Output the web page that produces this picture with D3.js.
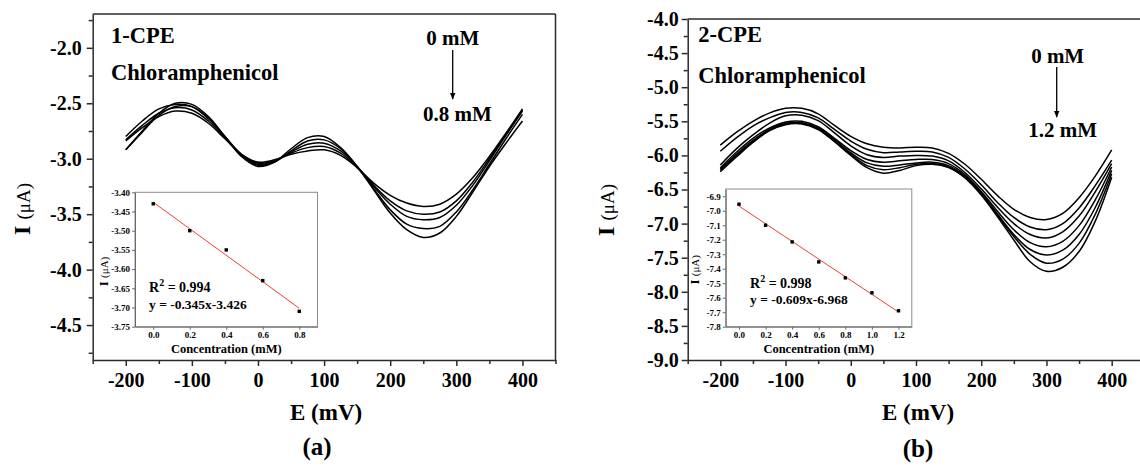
<!DOCTYPE html>
<html><head><meta charset="utf-8">
<script src="https://cdn.jsdelivr.net/npm/d3@7"></script>
<style>
html,body{margin:0;padding:0;background:#fff;}
svg{display:block;font-family:"Liberation Serif","Times New Roman",Times,serif;}
</style></head><body>
<svg id="chart" width="1140" height="467"></svg>
<script>
// ---------- DATA ----------
const E_mV = [-200,-175,-150,-125,-100,-75,-50,-25,0,25,50,75,100,125,150,175,200,225,250,275,300,325,350,375,400];

// Panel (a) 1-CPE, current (µA)
const A_0mM  = [-2.84,-2.72,-2.62,-2.57,-2.59,-2.68,-2.82,-2.96,-3.03,-3.01,-2.96,-2.93,-2.92,-2.97,-3.08,-3.22,-3.33,-3.40,-3.43,-3.41,-3.32,-3.17,-2.98,-2.77,-2.55];
const A_02mM = [-2.83,-2.70,-2.59,-2.54,-2.56,-2.66,-2.81,-2.96,-3.04,-3.02,-2.95,-2.90,-2.89,-2.95,-3.08,-3.24,-3.38,-3.47,-3.50,-3.48,-3.38,-3.21,-3.00,-2.78,-2.56];
const A_04mM = [-2.80,-2.66,-2.55,-2.51,-2.53,-2.64,-2.80,-2.96,-3.05,-3.02,-2.94,-2.87,-2.86,-2.93,-3.07,-3.25,-3.41,-3.52,-3.55,-3.53,-3.42,-3.24,-3.02,-2.79,-2.57];
const A_06mM = [-2.92,-2.76,-2.61,-2.53,-2.53,-2.63,-2.80,-2.97,-3.06,-3.03,-2.93,-2.84,-2.83,-2.91,-3.07,-3.27,-3.46,-3.59,-3.63,-3.61,-3.48,-3.28,-3.05,-2.82,-2.60];
const A_08mM = [-2.92,-2.75,-2.59,-2.50,-2.51,-2.62,-2.80,-2.98,-3.07,-3.03,-2.91,-2.81,-2.80,-2.90,-3.07,-3.28,-3.49,-3.64,-3.71,-3.67,-3.52,-3.30,-3.07,-2.86,-2.66];

// Panel (b) 2-CPE, current (µA)
const B_0mM  = [-5.85,-5.66,-5.50,-5.38,-5.31,-5.31,-5.39,-5.56,-5.72,-5.83,-5.88,-5.89,-5.88,-5.89,-5.97,-6.13,-6.35,-6.59,-6.79,-6.91,-6.94,-6.85,-6.62,-6.30,-5.92];
const B_02mM = [-5.94,-5.74,-5.57,-5.45,-5.37,-5.37,-5.45,-5.62,-5.79,-5.91,-5.96,-5.95,-5.94,-5.95,-6.03,-6.20,-6.43,-6.69,-6.91,-7.05,-7.09,-7.00,-6.77,-6.44,-6.07];
const B_04mM = [-6.14,-5.90,-5.70,-5.53,-5.42,-5.41,-5.49,-5.67,-5.86,-5.99,-6.03,-6.01,-6.00,-6.01,-6.08,-6.25,-6.49,-6.76,-7.00,-7.16,-7.21,-7.12,-6.89,-6.53,-6.12];
const B_06mM = [-6.18,-5.95,-5.75,-5.60,-5.51,-5.50,-5.58,-5.75,-5.93,-6.06,-6.10,-6.08,-6.06,-6.06,-6.12,-6.28,-6.53,-6.82,-7.09,-7.28,-7.34,-7.26,-7.03,-6.65,-6.17];
const B_08mM = [-6.20,-5.98,-5.78,-5.62,-5.53,-5.52,-5.60,-5.77,-5.96,-6.11,-6.16,-6.14,-6.11,-6.10,-6.15,-6.30,-6.55,-6.86,-7.16,-7.38,-7.46,-7.39,-7.16,-6.76,-6.22];
const B_10mM = [-6.22,-6.00,-5.80,-5.63,-5.54,-5.53,-5.61,-5.79,-5.98,-6.15,-6.21,-6.18,-6.13,-6.12,-6.17,-6.32,-6.57,-6.88,-7.19,-7.45,-7.58,-7.52,-7.29,-6.86,-6.27];
const B_12mM = [-6.24,-6.02,-5.81,-5.64,-5.55,-5.54,-5.62,-5.80,-6.00,-6.18,-6.26,-6.22,-6.15,-6.13,-6.18,-6.33,-6.58,-6.90,-7.24,-7.56,-7.70,-7.64,-7.41,-6.96,-6.32];

// Insets: calibration points and fitted lines
const insetA_conc = [0.0, 0.2, 0.4, 0.6, 0.8];
const insetA_I    = [-3.43, -3.50, -3.55, -3.63, -3.71];
const fitA_conc   = [0.0, 0.8];
const fitA_I      = [-3.426, -3.702];
const insetB_conc = [0.0, 0.2, 0.4, 0.6, 0.8, 1.0, 1.2];
const insetB_I    = [-6.955, -7.10, -7.215, -7.353, -7.463, -7.566, -7.69];
const fitB_conc   = [0.0, 1.2];
const fitB_I      = [-6.968, -7.699];

// Tick values
const xTicksMain   = [-200,-100,0,100,200,300,400];
const xMinorMain   = [-250,-150,-50,50,150,250,350,450];
const yTicksA      = [-2.0,-2.5,-3.0,-3.5,-4.0,-4.5];
const yMinorA      = [-1.75,-2.25,-2.75,-3.25,-3.75,-4.25,-4.75];
const yTicksB      = [-4.0,-4.5,-5.0,-5.5,-6.0,-6.5,-7.0,-7.5,-8.0,-8.5,-9.0];
const yMinorB      = [-4.25,-4.75,-5.25,-5.75,-6.25,-6.75,-7.25,-7.75,-8.25,-8.75];
const insetA_yTicks = [-3.40,-3.45,-3.50,-3.55,-3.60,-3.65,-3.70,-3.75];
const insetA_xTicks = [0.0,0.2,0.4,0.6,0.8];
const insetB_yTicks = [-6.9,-7.0,-7.1,-7.2,-7.3,-7.4,-7.5,-7.6,-7.7,-7.8];
const insetB_xTicks = [0.0,0.2,0.4,0.6,0.8,1.0,1.2];

// Texts
const panelNames = ["1-CPE", "2-CPE"];
const analyte = "Chloramphenicol";
const arrowLabelsA = ["0 mM", "0.8 mM"];
const arrowLabelsB = ["0 mM", "1.2 mM"];
const fitTextA = ["0.994", "y = -0.345x-3.426"];
const fitTextB = ["0.998", "y = -0.609x-6.968"];
const panelLetters = ["(a)", "(b)"];

// ---------- DRAW ----------
const svg = d3.select("#chart");
const AX = "#2b2b2b";
const fmt = n => d => d.toFixed(n);

svg.append("defs").append("marker")
  .attr("id","arrow").attr("viewBox","0 0 10 10").attr("refX",9).attr("refY",5)
  .attr("markerUnits","userSpaceOnUse").attr("markerWidth",7).attr("markerHeight",11)
  .attr("orient","auto")
  .append("path").attr("d","M0,1 L10,5 L0,9 Z").attr("fill","#000");

function styleAxis(g, fs, color, sw){
  g.selectAll("path.domain").attr("stroke", color).attr("stroke-width", sw);
  g.selectAll(".tick line").attr("stroke", color).attr("stroke-width", sw);
  g.selectAll(".tick text").attr("fill","#000").attr("font-size", fs).attr("font-weight","bold")
   .attr("font-family",'"Liberation Serif","Times New Roman",serif');
}

function drawPanel(p){
  const x = d3.scaleLinear().domain([-250,450]).range([p.left, p.right]);
  const y = d3.scaleLinear().domain(p.yDomain).range([p.bottom, p.top]);
  const g = svg.append("g");

  // frame (top + right)
  g.append("line").attr("x1",p.left).attr("x2",p.right).attr("y1",p.top).attr("y2",p.top)
   .attr("stroke",AX).attr("stroke-width",1.5);
  g.append("line").attr("x1",p.right).attr("x2",p.right).attr("y1",p.top).attr("y2",p.bottom)
   .attr("stroke",AX).attr("stroke-width",1.5);

  // curves
  const line = d3.line().x((d,i)=>x(E_mV[i])).y(d=>y(d)).curve(d3.curveCatmullRom.alpha(0.5));
  g.append("g").selectAll("path").data(p.series).join("path")
   .attr("d", line).attr("fill","none").attr("stroke","#000").attr("stroke-width",1.5);

  // axes
  const xa = g.append("g").attr("transform",`translate(0,${p.bottom})`)
    .call(d3.axisBottom(x).tickValues(xTicksMain).tickFormat(d3.format("d")).tickSize(6).tickSizeOuter(0).tickPadding(7));
  xa.selectAll(".tick text").text(d => String(d));
  styleAxis(xa, 20, AX, 1.5);
  const xm = g.append("g").attr("transform",`translate(0,${p.bottom})`)
    .call(d3.axisBottom(x).tickValues(xMinorMain).tickFormat("").tickSize(4).tickSizeOuter(0));
  xm.select("path.domain").remove();
  styleAxis(xm, 20, AX, 1.5);

  const ya = g.append("g").attr("transform",`translate(${p.left},0)`)
    .call(d3.axisLeft(y).tickValues(p.yTicks).tickFormat(fmt(1)).tickSize(6).tickSizeOuter(0).tickPadding(p.yPad));
  styleAxis(ya, 20, AX, 1.5);
  const ym = g.append("g").attr("transform",`translate(${p.left},0)`)
    .call(d3.axisLeft(y).tickValues(p.yMinor).tickFormat("").tickSize(4).tickSizeOuter(0));
  ym.select("path.domain").remove();
  styleAxis(ym, 20, AX, 1.5);

  // axis titles
  g.append("text").attr("x",(p.left+p.right)/2 + p.xTitleDx).attr("y",420).attr("text-anchor","middle")
   .attr("font-size",23).attr("font-weight","bold").text("E (mV)");
  g.append("text").attr("x",(p.left+p.right)/2 + p.letterDx).attr("y",p.letterY).attr("text-anchor","middle")
   .attr("font-size",25).attr("font-weight","bold").text(p.letter);
  const yt = g.append("text").attr("transform",`translate(${p.yTitleX},${p.yTitleY}) rotate(-90)`)
   .attr("text-anchor","middle");
  yt.append("tspan").attr("font-size",24).attr("font-weight","bold").text("I ");
  yt.append("tspan").attr("font-size",19).text("(\u03BCA)");

  // labels
  g.append("text").attr("x",p.nameX).attr("y",p.nameY).attr("font-size",22.5).attr("font-weight","bold").text(p.name);
  g.append("text").attr("x",p.nameX).attr("y",p.analyteY).attr("font-size",22.5).attr("font-weight","bold").text(analyte);

  // arrow & concentration labels
  const ax = x(p.arrowE);
  g.append("text").attr("x",x(p.arrowE+p.lab0dE)).attr("y",p.lab0Y).attr("text-anchor","middle")
   .attr("font-size",21).attr("font-weight","bold").text(p.arrowLabels[0]);
  g.append("line").attr("x1",ax).attr("x2",ax).attr("y1",p.arrowY1).attr("y2",p.arrowY2)
   .attr("stroke","#000").attr("stroke-width",1.3).attr("marker-end","url(#arrow)");
  g.append("text").attr("x",x(p.arrowE+p.lab1dE)).attr("y",p.lab1Y).attr("text-anchor","middle")
   .attr("font-size",21).attr("font-weight","bold").text(p.arrowLabels[1]);

  // inset
  const q = p.inset;
  const ix = d3.scaleLinear().domain(q.xDomain).range([q.left,q.right]);
  const iy = d3.scaleLinear().domain(q.yDomain).range([q.bottom,q.top]);
  const ig = g.append("g");
  ig.append("rect").attr("x",q.left).attr("y",q.top).attr("width",q.right-q.left).attr("height",q.bottom-q.top)
    .attr("fill","#fff").attr("stroke","#8c8c8c").attr("stroke-width",1);
  const ixa = ig.append("g").attr("transform",`translate(0,${q.bottom})`)
    .call(d3.axisBottom(ix).tickValues(q.xTicks).tickFormat(fmt(1)).tickSize(3).tickSizeOuter(0).tickPadding(2));
  styleAxis(ixa, 9, "#6a6a6a", 1);
  const iya = ig.append("g").attr("transform",`translate(${q.left},0)`)
    .call(d3.axisLeft(iy).tickValues(q.yTicks).tickFormat(fmt(q.yDec)).tickSize(3).tickSizeOuter(0).tickPadding(2));
  styleAxis(iya, 9, "#6a6a6a", 1);
  ig.append("text").attr("x",(q.left+q.right)/2).attr("y",q.bottom+26).attr("text-anchor","middle")
    .attr("font-size",12.5).attr("font-weight","bold").text("Concentration (mM)");
  const iyt = ig.append("text").attr("transform",`translate(${q.yTitleX},${(q.top+q.bottom)/2+12}) rotate(-90)`)
    .attr("text-anchor","middle");
  iyt.append("tspan").attr("font-size",13).attr("font-weight","bold").text("I ");
  iyt.append("tspan").attr("font-size",11).text("(\u03BCA)");
  // fit line
  ig.append("line").attr("x1",ix(q.fitX[0])).attr("x2",ix(q.fitX[1]))
    .attr("y1",iy(q.fitY[0])).attr("y2",iy(q.fitY[1]))
    .attr("stroke","#e8403a").attr("stroke-width",1);
  // points
  ig.selectAll("rect.pt").data(q.xs).join("rect").attr("class","pt")
    .attr("x",(d)=>ix(d)-1.7).attr("y",(d,i)=>iy(q.ys[i])-1.7).attr("width",3.4).attr("height",3.4).attr("fill","#000");
  // fit text
  const r2 = ig.append("text").attr("x",q.textX).attr("y",q.r2Y).attr("font-size",14).attr("font-weight","bold");
  r2.append("tspan").text("R");
  r2.append("tspan").attr("font-size",10).attr("dy",-6).text("2");
  r2.append("tspan").attr("dy",6).text(" = " + q.fitText[0]);
  ig.append("text").attr("x",q.textX).attr("y",q.eqY).attr("font-size",13.5).attr("font-weight","bold").text(q.fitText[1]);
}

drawPanel({
  left: 92.7, right: 555.5, top: 14, bottom: 360,
  yDomain: [-4.815, -1.695], yTicks: yTicksA, yMinor: yMinorA, yPad: 5,
  series: [A_0mM, A_02mM, A_04mM, A_06mM, A_08mM],
  name: panelNames[0], nameX: 111, nameY: 43, analyteY: 80,
  arrowE: 294.5, arrowY1: 50, arrowY2: 99, lab0dE: 0, lab0Y: 45, lab1dE: 7, lab1Y: 120.5,
  arrowLabels: arrowLabelsA, letter: panelLetters[0], xTitleDx: 2, letterDx: -7, letterY: 455,
  yTitleX: 29.5, yTitleY: 209,
  inset: { left: 135, right: 317.5, top: 192.3, bottom: 326.7, xDomain: [-0.1,0.9], yDomain: [-3.75,-3.40],
    xTicks: insetA_xTicks, yTicks: insetA_yTicks, yDec: 2, xs: insetA_conc, ys: insetA_I,
    fitX: fitA_conc, fitY: fitA_I, fitText: fitTextA, textX: 149, r2Y: 291.5, eqY: 308.5, yTitleX: 107.5 }
});

drawPanel({
  left: 687.7, right: 1144.3, top: 19, bottom: 360,
  yDomain: [-9, -4], yTicks: yTicksB, yMinor: yMinorB, yPad: 3,
  series: [B_0mM, B_02mM, B_04mM, B_06mM, B_08mM, B_10mM, B_12mM],
  name: panelNames[1], nameX: 698.3, nameY: 41.7, analyteY: 82.7,
  arrowE: 315.7, arrowY1: 67, arrowY2: 117, lab0dE: 1.5, lab0Y: 63, lab1dE: 9, lab1Y: 136.7,
  arrowLabels: arrowLabelsB, letter: panelLetters[1], xTitleDx: 2, letterDx: 2, letterY: 457,
  yTitleX: 614, yTitleY: 210,
  inset: { left: 725.7, right: 911.8, top: 189, bottom: 326.7, xDomain: [-0.1,1.3], yDomain: [-7.8,-6.85],
    xTicks: insetB_xTicks, yTicks: insetB_yTicks, yDec: 1, xs: insetB_conc, ys: insetB_I,
    fitX: fitB_conc, fitY: fitB_I, fitText: fitTextB, textX: 750, r2Y: 288.3, eqY: 304.3, yTitleX: 699 }
});
</script>
</body></html>
